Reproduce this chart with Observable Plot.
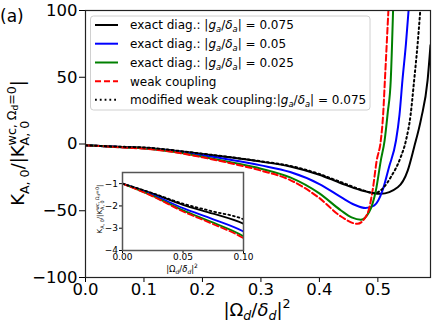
<!DOCTYPE html>
<html>
<head>
<meta charset="utf-8">
<script src="https://cdn.jsdelivr.net/npm/d3@7"></script>
<script src="https://cdn.jsdelivr.net/npm/@observablehq/plot@0.6"></script>
<style>
  html, body { margin: 0; padding: 0; background: white; }
  #wrap { position: relative; width: 436px; height: 325px; overflow: hidden; font-family: "DejaVu Sans", sans-serif; }
  #inset { position: absolute; left: 90px; top: 165px; }
  svg text { font-family: "DejaVu Sans", sans-serif; }
</style>
</head>
<body>
<div id="wrap"><div id="main"></div><div id="inset"></div></div>
<script>
// ---- data ----
const xTicks = [0, 0.1, 0.2, 0.3, 0.4, 0.5];
const yTicks = [-100, -50, 0, 50, 100];
const insetXTicks = [0, 0.05, 0.1];
const insetYTicks = [-4, -3, -2, -1];

const blackX = [0,0.025,0.05,0.075,0.1,0.15,0.2,0.25,0.3,0.35,0.4,0.437,0.47,0.505,0.534,0.551,0.562,0.574,0.585,0.59];
const blackY = [-1,-1.45,-1.95,-2.35,-2.8,-4.8,-7.5,-10.2,-13.2,-16.8,-23,-29.4,-34.5,-37.3,-32.4,-19.9,-2.4,19,47.6,74];

const blueX = [0,0.025,0.05,0.075,0.1,0.15,0.2,0.25,0.3,0.35,0.4,0.437,0.46,0.479,0.494,0.508,0.519,0.531,0.537,0.542,0.548,0.5525];
const blueY = [-1,-1.5,-2.1,-2.6,-3.15,-5.3,-8.5,-12,-16,-21,-30,-39.8,-45.5,-48,-46,-34.8,-17.4,2.6,22,47.6,75,100];

const greenX = [0,0.025,0.05,0.075,0.1,0.15,0.2,0.25,0.3,0.35,0.4,0.437,0.455,0.471,0.485,0.4966,0.505,0.5115,0.517,0.522,0.526];
const greenY = [-1,-1.55,-2.2,-2.75,-3.36,-5.8,-9.5,-13.8,-18.5,-25,-37,-49.8,-55,-56.8,-51,-34.8,-12.4,2.6,24,47.6,100];

const redX = [0,0.025,0.05,0.075,0.1,0.15,0.2,0.25,0.3,0.35,0.4,0.437,0.465,0.482,0.491,0.498,0.505,0.509,0.512,0.518];
const redY = [-1,-1.57,-2.25,-2.82,-3.45,-6,-10,-14.6,-19.9,-27,-40.5,-54.3,-59.8,-52.3,-34.8,-12.4,2.6,22,47.6,100];

const dotX = [0,0.025,0.05,0.075,0.1,0.15,0.2,0.25,0.3,0.35,0.4,0.437,0.47,0.494,0.51,0.522,0.539,0.548,0.556,0.562,0.568,0.5725];
const dotY = [-1,-1.43,-1.9,-2.25,-2.6,-4.7,-7.3,-10,-13,-16.4,-22.5,-28.6,-34,-36.8,-32.5,-24.9,-9.9,2.6,22,47.6,75,100];

const legendLabels = ["exact diag.: ", "exact diag.: ", "exact diag.: ", "weak coupling", "modified weak coupling:"];
const legendValues = ["0.075", "0.05", "0.025", null, "0.075"];

// ---- build series ----
const rec = (xs, ys) => xs.map((x, i) => ({x, y: ys[i]}));
const series = [
  {data: rec(blackX, blackY), stroke: "#000000", dash: null},
  {data: rec(blueX, blueY), stroke: "#0000ff", dash: null},
  {data: rec(greenX, greenY), stroke: "#008000", dash: null},
  {data: rec(redX, redY), stroke: "#ff0000", dash: "6,3"},
  {data: rec(dotX, dotY), stroke: "#000000", dash: "1.8,3"}
];
const lineMarks = (sw) => series.map(s => Plot.line(s.data, {
  x: "x", y: "y", stroke: s.stroke, strokeWidth: sw, curve: "monotone-x", clip: true,
  strokeDasharray: s.dash ?? undefined
}));

const fmt = d3.format("");
// ---- main plot ----
const main = Plot.plot({
  width: 436, height: 325,
  marginTop: 10, marginRight: 6, marginBottom: 48, marginLeft: 85,
  style: {fontFamily: "DejaVu Sans", fontSize: "16.5px", background: "white", color: "#000", overflow: "visible"},
  x: {domain: [0, 0.59]},
  y: {domain: [-100, 100]},
  marks: [
    Plot.axisX({ticks: xTicks, tickFormat: d3.format(".1f"), tickSize: 5, tickPadding: 1, label: null, fontSize: 16.5}),
    Plot.axisY({ticks: yTicks, tickFormat: d => fmt(d), tickSize: 6, tickPadding: 2, label: null, fontSize: 16.5}),
    ...lineMarks(2),
    Plot.frame({stroke: "#222", strokeWidth: 1.2})
  ]
});
document.getElementById("main").appendChild(main);

// ---- inset ----
const inset = Plot.plot({
  width: 160, height: 110,
  marginTop: 7, marginRight: 7, marginBottom: 25, marginLeft: 32,
  style: {fontFamily: "DejaVu Sans", fontSize: "9px", background: "transparent", color: "#000", overflow: "visible"},
  x: {domain: [0, 0.1]},
  y: {domain: [-4, -0.5]},
  marks: [
    Plot.frame({fill: "white", stroke: null}),
    Plot.axisX({ticks: insetXTicks, tickFormat: d3.format(".2f"), tickSize: 3, tickPadding: 0, label: null, fontSize: 9}),
    Plot.axisY({ticks: insetYTicks, tickFormat: d => fmt(d), tickSize: 3, tickPadding: 1.5, label: null, fontSize: 9}),
    ...lineMarks(1.8),
    Plot.frame({stroke: "#555", strokeWidth: 1.5})
  ]
});
document.getElementById("inset").appendChild(inset);

// ---- math-text helper ----
function mathText(parent, x, y, size, pieces, rotate = 0, anchor = "middle") {
  const g = parent.append("g").attr("transform", `translate(${x},${y}) rotate(${rotate})`);
  const inner = g.append("g");
  let cx = 0, saved = 0, stackEnd = 0, maxX = 0;
  for (const p of pieces) {
    if (p.mark) saved = cx;
    let afterBack = false;
    if (p.back) { stackEnd = cx; cx = saved; afterBack = true; }
    const t = inner.append("text")
      .attr("text-anchor", "start")
      .attr("font-size", size * (p.s || 1))
      .attr("font-style", p.it ? "italic" : "normal")
      .attr("fill", "#000")
      .attr("x", cx)
      .attr("y", -(p.dy || 0) * size)
      .text(p.t);
    cx += t.node().getComputedTextLength();
    if (afterBack) cx = Math.max(cx, stackEnd);
    maxX = Math.max(maxX, cx);
  }
  if (anchor === "middle") inner.attr("transform", `translate(${-maxX / 2},0)`);
  return g;
}
const kLabel = [
  {t: "K"}, {t: "A, 0", s: 0.7, dy: -0.25}, {t: "/|K"},
  {t: "wc, Ω", s: 0.7, dy: 0.45, mark: true}, {t: "d", s: 0.5, dy: 0.33}, {t: "=0", s: 0.7, dy: 0.45},
  {t: "A, 0", s: 0.7, dy: -0.3, back: true}, {t: "|"}
];
const omegaLabel = [
  {t: "|Ω"}, {t: "d", s: 0.7, dy: -0.22, it: true}, {t: "/"}, {t: "δ", it: true},
  {t: "d", s: 0.7, dy: -0.22, it: true}, {t: "|"}, {t: "2", s: 0.7, dy: 0.45}
];
const gLabel = (v) => [
  {t: "|"}, {t: "g", it: true}, {t: "a", s: 0.7, dy: -0.22, it: true}, {t: "/"}, {t: "δ", it: true},
  {t: "a", s: 0.7, dy: -0.22, it: true}, {t: "| = " + v}
];

const ms = d3.select(main);
// panel tag
ms.append("text").attr("text-anchor", "start").attr("x", 0).attr("y", 22).attr("font-size", 17).attr("fill", "#000").text("(a)");
// axis labels
mathText(ms, 24, 143, 18, kLabel, -90);
mathText(ms, 257, 316, 18, omegaLabel, 0);

// legend
const lg = ms.append("g");
lg.append("rect").attr("x", 90.5).attr("y", 16).attr("width", 279.5).attr("height", 94).attr("rx", 3)
  .attr("fill", "white").attr("fill-opacity", 0.8).attr("stroke", "#d0d0d0").attr("stroke-width", 1);
const rowY = [25, 43.7, 62.5, 81.3, 99.8];
legendLabels.forEach((lab, i) => {
  const s = series[i];
  lg.append("line").attr("x1", 95).attr("x2", 118).attr("y1", rowY[i]).attr("y2", rowY[i])
    .attr("stroke", s.stroke).attr("stroke-width", 2).attr("stroke-dasharray", s.dash);
  const pieces = [{t: lab}];
  if (legendValues[i] !== null) pieces.push(...gLabel(legendValues[i]));
  mathText(lg, 130, rowY[i] + 4.4, 12, pieces, 0, "start");
});

// inset labels
const is = d3.select(inset);
mathText(is, 12, 44, 7, kLabel, -90);
mathText(is, 92, 107, 8.5, omegaLabel, 0);
</script>
</body>
</html>
